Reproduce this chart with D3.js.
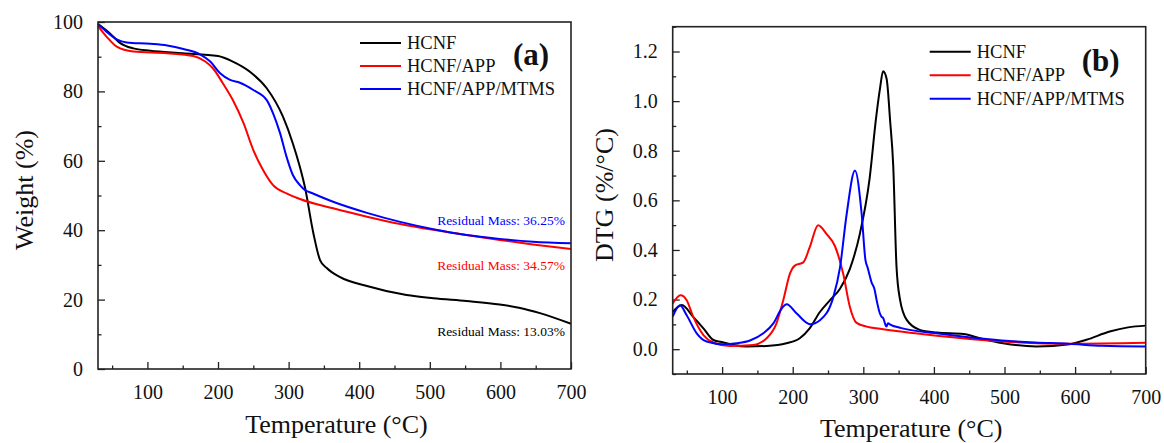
<!DOCTYPE html>
<html lang="en">
<head>
<meta charset="utf-8">
<title>TGA and DTG curves</title>
<script src="https://d3js.org/d3.v7.min.js"></script>
<style>
	body {
		margin: 0;
		background: #fff;
	}
	svg { display: block; }
	svg text { font-family: "Liberation Serif", "DejaVu Serif", serif; }
	.tick text {
		font-size: 20px;
		fill: #111;
	}
	.domain { display: none; }
	.tick line { stroke: #222; stroke-width: 1.3; }
	.frame { fill: none; stroke: #222; stroke-width: 1.6; }
	.curve { fill: none; stroke-width: 2; stroke-linejoin: round; }
	.title { font-size: 26px; fill: #111; }
	.legend text { font-size: 18.5px; fill: #111; }
	.panel-tag { font-size: 31px; font-weight: bold; fill: #111; }
	.residual { font-size: 13.5px; }
</style>
</head>
<body>
<div id="vis"></div>
<script>

/* Data */
/* ==== */

var seriesNames = ['HCNF', 'HCNF/APP', 'HCNF/APP/MTMS'];
var seriesColors = ['#000000', '#ff0000', '#0000ff'];

var xTicks = [100, 200, 300, 400, 500, 600, 700];
var xMinorTicks = [50, 150, 250, 350, 450, 550, 650];

// (a) weight (%) vs temperature
var tgaHCNF = [[30, 99.4], [47, 96.7], [61, 94], [80, 92.4], [104, 91.7], [150, 91], [200, 90.2],
	[221, 88.6], [245, 85.7], [269, 80.9], [292, 72.7], [306, 65], [316, 58.2], [323, 52.5],
	[335, 39.2], [344.5, 31.4], [354, 29.1], [373, 26.5], [411, 23.9], [467, 21.3], [505, 20.4],
	[552, 19.6], [599, 18.6], [628, 17.6], [656, 16.1], [700, 13.03]];
var tgaAPP = [[30, 98.8], [42, 95.8], [56.5, 92.9], [80, 91.5], [128, 91], [165, 90.2], [182, 88.6],
	[193, 86.6], [207, 82.3], [221, 77.5], [236, 70.9], [250, 63.1], [264, 57.3], [278, 53],
	[297, 50.6], [316, 49], [363, 46.3], [411, 43.9], [458, 41.8], [505, 40.1], [552, 38.6],
	[599, 37.2], [646, 35.9], [700, 34.57]];
var tgaMTMS = [[30, 99.4], [42, 97.2], [56.5, 95], [70.6, 94.1], [104, 93.7], [128, 93.2], [151, 92.2],
	[174.5, 90.7], [189, 88.6], [203, 85.2], [217, 83.3], [231, 82.5], [250, 80.4], [269, 77.5],
	[278, 73.7], [288, 67.9], [297, 61.2], [306, 55.9], [316, 53], [323, 51.6], [332, 50.8],
	[363, 48.2], [411, 45], [458, 42.4], [505, 40.3], [552, 38.6], [599, 37.5], [646, 36.7], [700, 36.25]];

var weightTicks = [0, 20, 40, 60, 80, 100];
var weightMinorTicks = [10, 30, 50, 70, 90];
var residualLabels = ['Residual Mass: 13.03%', 'Residual Mass: 34.57%', 'Residual Mass: 36.25%'];
var residualLabelY = [9.5, 28.6, 41.5];

// (b) DTG (%/°C) vs temperature
var dtgHCNF = [[30, 0.15], [43, 0.178], [59, 0.13], [73.5, 0.084], [87.6, 0.037], [101.7, 0.027],
	[116, 0.017], [135, 0.011], [163, 0.013], [191, 0.024], [210, 0.044], [224, 0.084],
	[238.5, 0.15], [252.6, 0.197], [267, 0.244], [281, 0.324], [295, 0.464], [309, 0.69],
	[318, 0.93], [323.6, 1.05], [328, 1.12], [333, 1.09], [338, 0.92], [342.4, 0.738], [347, 0.334],
	[352, 0.2], [361.5, 0.118], [380, 0.078], [404, 0.067], [442, 0.061], [465, 0.044],
	[498, 0.024], [545, 0.011], [592, 0.02], [616, 0.038], [649, 0.071], [675, 0.088], [700, 0.095]];
var dtgAPP = [[30, 0.184], [41, 0.217], [49.8, 0.197], [59, 0.131], [73.5, 0.057], [87.6, 0.027],
	[111, 0.013], [144, 0.017], [163, 0.044], [177, 0.104], [186.6, 0.197], [196, 0.304],
	[203, 0.337], [215, 0.35], [224, 0.41], [236, 0.5], [248, 0.464], [259.6, 0.417],
	[271.5, 0.304], [281, 0.17], [290, 0.107], [304.6, 0.091], [323.6, 0.082], [404, 0.054],
	[498, 0.031], [592, 0.022], [700, 0.026]];
var dtgMTMS = [[30, 0.131], [40.4, 0.177], [49.8, 0.137], [64, 0.064], [78, 0.031], [101.7, 0.02],
	[120.6, 0.024], [139.5, 0.035], [158.4, 0.064], [172.6, 0.104], [184.4, 0.164], [191.5, 0.181],
	[205.6, 0.144], [224.5, 0.101], [238.6, 0.117], [257.5, 0.21], [267, 0.33], [276.4, 0.544],
	[288.2, 0.72], [297.7, 0.544], [303, 0.36], [306, 0.33], [311.6, 0.27], [316, 0.24],
	[318.7, 0.2], [323.4, 0.145], [326, 0.13], [328, 0.126], [332.8, 0.091], [335, 0.105],
	[337.5, 0.1], [354, 0.085], [401, 0.065], [449, 0.048], [496, 0.035], [543, 0.027],
	[590, 0.022], [638, 0.014], [700, 0.011]];

var dtgTicks = [0, 0.2, 0.4, 0.6, 0.8, 1.0, 1.2];
var dtgMinorTicks = [-0.1, 0.1, 0.3, 0.5, 0.7, 0.9, 1.1, 1.3];


/* Set up */
/* ====== */

var fontFamily = '"Liberation Serif", "DejaVu Serif", serif';

var svg = d3.select('#vis')
	.append('svg')
	.attr('width', 1164)
	.attr('height', 443)
	.attr('font-family', fontFamily);

function panel(opt) {
	var g = svg.append('g')
		.attr('transform', 'translate(' + opt.left + ',' + opt.top + ')');

	var x = d3.scaleLinear().domain([30, 700]).range([0, opt.width]);
	var y = d3.scaleLinear().domain(opt.yDomain).range([opt.height, 0]);

	/* Axes: ticks point inwards */
	var xAxis = g.append('g')
		.attr('transform', 'translate(0,' + opt.height + ')')
		.call(d3.axisBottom(x).tickValues(xTicks).tickSizeInner(-7).tickSizeOuter(0).tickPadding(12));
	xAxis.selectAll('text').attr('dy', '0.9em');
	g.append('g')
		.attr('transform', 'translate(0,' + opt.height + ')')
		.call(d3.axisBottom(x).tickValues(xMinorTicks).tickSizeInner(-3.5).tickSizeOuter(0).tickFormat(''));

	g.append('g')
		.call(d3.axisLeft(y).tickValues(opt.yTicks).tickFormat(opt.yFormat)
			.tickSizeInner(-7).tickSizeOuter(0).tickPadding(15));
	g.append('g')
		.call(d3.axisLeft(y).tickValues(opt.yMinor).tickSizeInner(-3.5).tickSizeOuter(0).tickFormat(''));

	/* Curves */
	var line = d3.line()
		.x(function (d) { return x(d[0]); })
		.y(function (d) { return y(d[1]); })
		.curve(d3.curveMonotoneX);

	g.selectAll('.curve')
		.data(opt.series).enter()
		.append('path')
		.attr('class', 'curve')
		.attr('stroke', function (d, i) { return seriesColors[i]; })
		.attr('d', line);

	/* Frame */
	g.append('rect')
		.attr('class', 'frame')
		.attr('width', opt.width)
		.attr('height', opt.height);

	/* Legend */
	var lg = g.append('g')
		.attr('class', 'legend')
		.attr('transform', 'translate(' + opt.legendX + ',' + opt.legendY + ')');
	var rows = lg.selectAll('g')
		.data(seriesNames).enter()
		.append('g')
		.attr('transform', function (d, i) { return 'translate(0,' + (i * opt.legendStep) + ')'; });
	rows.append('line')
		.attr('x1', 0).attr('x2', 41)
		.attr('stroke', function (d, i) { return seriesColors[i]; })
		.attr('stroke-width', 2);
	rows.append('text')
		.attr('x', 47)
		.attr('dy', '0.33em')
		.text(function (d) { return d; });

	g.append('text')
		.attr('class', 'panel-tag')
		.attr('x', opt.tagX)
		.attr('y', opt.tagY)
		.text(opt.tag);

	/* Titles */
	svg.append('text')
		.attr('class', 'title')
		.attr('text-anchor', 'middle')
		.attr('x', opt.left + opt.width / 2 + 2)
		.attr('y', opt.xTitleY)
		.text('Temperature (°C)');
	svg.append('text')
		.attr('class', 'title')
		.attr('text-anchor', 'middle')
		.attr('transform', 'translate(' + opt.yTitleX + ',' + opt.yTitleCy + ') rotate(-90)')
		.text(opt.yTitle);

	return { g: g, x: x, y: y };
}

var a = panel({
	left: 98, top: 22, width: 473, height: 347,
	yDomain: [0, 100], yTicks: weightTicks, yMinor: weightMinorTicks,
	yFormat: d3.format('d'),
	series: [tgaHCNF, tgaAPP, tgaMTMS],
	legendX: 262, legendY: 21, legendStep: 23,
	tag: '(a)', tagX: 415, tagY: 43,
	xTitleY: 433, yTitleX: 33, yTitleCy: 190, yTitle: 'Weight (%)'
});

a.g.selectAll('.residual')
	.data(residualLabels).enter()
	.append('text')
	.attr('class', 'residual')
	.attr('text-anchor', 'end')
	.attr('x', a.x(700) - 6)
	.attr('y', function (d, i) { return a.y(residualLabelY[i]); })
	.attr('fill', function (d, i) { return seriesColors[i]; })
	.text(function (d) { return d; });

panel({
	left: 672.7, top: 26.7, width: 473, height: 347.3,
	yDomain: [-0.1, 1.3], yTicks: dtgTicks, yMinor: dtgMinorTicks,
	yFormat: d3.format('.1f'),
	series: [dtgHCNF, dtgAPP, dtgMTMS],
	legendX: 257, legendY: 25, legendStep: 23.5,
	tag: '(b)', tagX: 409, tagY: 44,
	xTitleY: 437, yTitleX: 613, yTitleCy: 195, yTitle: 'DTG (%/°C)'
});

// axis groups carry their own font attributes; make every label serif
svg.selectAll('g').attr('font-family', null);
svg.selectAll('text').attr('font-family', fontFamily);

</script>
</body>
</html>
